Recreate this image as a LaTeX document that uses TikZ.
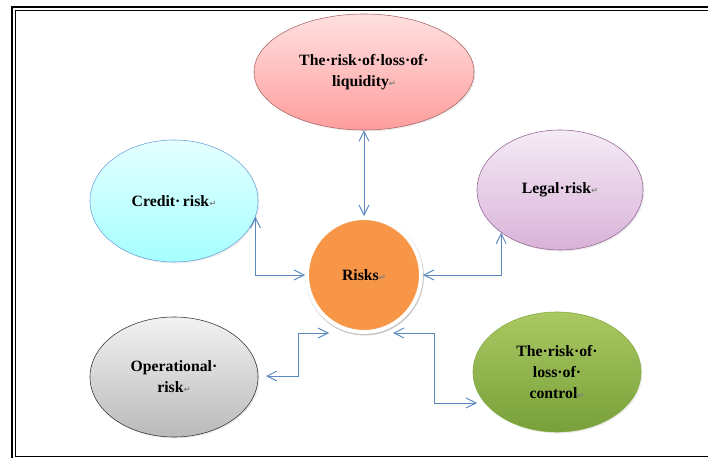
\documentclass[tikz,border=0pt]{standalone}
\usepackage{fontspec}
\setmainfont{Liberation Serif}
\newfontfamily\markfont{DejaVu Sans}
\usetikzlibrary{shapes.geometric,arrows.meta,shadows}

\definecolor{linkblue}{RGB}{92,136,192}
\definecolor{riskorange}{RGB}{247,150,70}
\newcommand{\pmark}{{\markfont\fontsize{6}{6}\selectfont\color{gray}↵}}

\begin{document}
\begin{tikzpicture}[x=0.025cm,y=-0.025cm,
  bubble/.style={ellipse,inner sep=0pt,align=center,
    font=\fontsize{11.2}{14.8}\selectfont\bfseries,
    drop shadow={opacity=0.15,shadow xshift=1pt,shadow yshift=-1pt}},
  link/.style={draw=linkblue,line width=0.7pt,<->,
    >={Straight Barb[length=7pt,width=7pt]}}]
\useasboundingbox (0,0) rectangle (708,458); % adjust bounding box
% frame
\draw[line width=1pt] (708,7) -- (12,7) -- (12,458);
\draw[line width=0.7pt] (708,10) -- (15,10) -- (15,456) -- (708,456);

\node[bubble,minimum width=5.5cm,minimum height=2.9cm,
  top color=red!12,bottom color=red!40!pink!70,draw=red!45!black!60]
  (liquidity) at (364,72) {The·risk·of·loss·of·\\liquidity\pmark};
\node[bubble,minimum width=4.2cm,minimum height=3.05cm,
  top color=cyan!10,bottom color=cyan!35,draw=cyan!60!blue!60]
  (credit) at (174,201) {Credit·\,risk\pmark};
\node[bubble,minimum width=4.15cm,minimum height=3cm,
  top color=violet!8,bottom color=violet!30,draw=violet!60!black!60]
  (legal) at (560,190) {Legal·risk\pmark};
\node[bubble,minimum width=4.2cm,minimum height=3cm,
  top color=black!5,bottom color=black!27,draw=black!80]
  (oper) at (174,377) {Operational·\\risk\pmark};
\node[bubble,minimum width=4.2cm,minimum height=3cm,
  top color={rgb,255:red,170;green,200;blue,98},
  bottom color={rgb,255:red,120;green,160;blue,58},
  draw={rgb,255:red,130;green,170;blue,66}]
  (control) at (557,372) {The·risk·of·\\loss·of·\\control\pmark};

\node[circle,minimum size=2.85cm,fill=riskorange,draw=white,line width=2.8pt,
  drop shadow={opacity=0.45,shadow xshift=0.4pt,shadow yshift=-0.8pt,shadow scale=1.04},
  font=\fontsize{11.2}{14.8}\selectfont\bfseries]
  (risks) at (364,275) {Risks\pmark};

\coordinate (operout) at (266,376);
\coordinate (operin) at (329,333);
\coordinate (controlin) at (393,333);
\coordinate (controlout) at (477,403);

\draw[link] (liquidity.south) -- (risks.north);
\draw[link] (credit.-11) |- (risks.west);
\draw[link] (legal.216) |- (risks.east);
\draw[link] (operout) -- ++(32,0) |- (operin);
\draw[link] (controlin) -- ++(41,0) |- (controlout);
\end{tikzpicture}
\end{document}
